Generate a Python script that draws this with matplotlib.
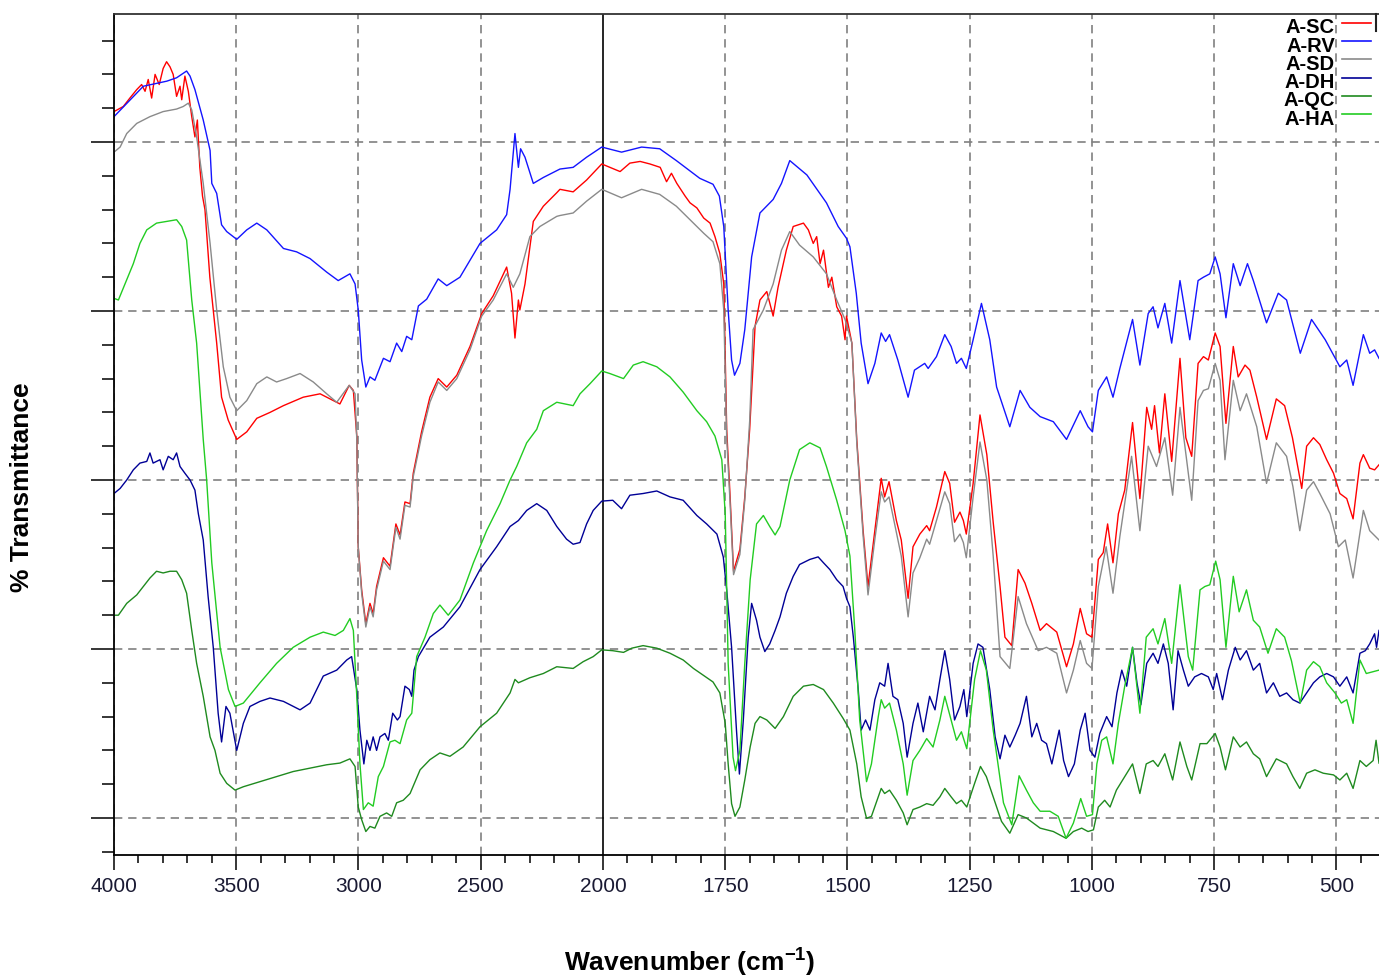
import numpy as np
import matplotlib
matplotlib.use("Agg")
import matplotlib.pyplot as plt
from matplotlib.ticker import FixedLocator, MultipleLocator, NullFormatter
from matplotlib.lines import Line2D

plt.rcParams['font.family'] = ['Liberation Sans', 'DejaVu Sans']
plt.rcParams['mathtext.fontset'] = 'custom'
plt.rcParams['mathtext.rm'] = 'Liberation Sans'
plt.rcParams['mathtext.bf'] = 'Liberation Sans:bold'

# ---- spectra: (wavenumber cm-1, %T) ----
a_sc = np.array([
    (4000, 51.8), (3962, 52.1), (3935, 52.6), (3907, 53.1), (3887, 53.4), (3873, 53.0), (3860, 53.7),
    (3846, 52.6), (3832, 54.0), (3815, 53.4), (3799, 54.35), (3785, 54.75), (3771, 54.45), (3758, 54.0),
    (3744, 52.7), (3730, 53.3), (3723, 52.5), (3710, 53.9), (3696, 53.0), (3682, 51.5), (3669, 50.3),
    (3659, 51.3), (3649, 48.5), (3638, 46.8), (3628, 46.0), (3608, 42.0), (3580, 38.1), (3560, 34.9),
    (3533, 33.55), (3498, 32.4), (3457, 32.85), (3416, 33.65), (3362, 34.0), (3307, 34.4), (3226, 34.9),
    (3157, 35.1), (3103, 34.7), (3076, 34.5), (3038, 35.6), (3021, 35.3), (3007, 32.6), (3001, 26.05),
    (2987, 23.5), (2970, 21.5), (2953, 22.7), (2940, 22.1), (2926, 23.7), (2898, 25.4), (2871, 24.9),
    (2847, 27.4), (2830, 26.75), (2810, 28.7), (2789, 28.6), (2776, 30.4), (2742, 32.85), (2708, 34.9),
    (2674, 36.0), (2639, 35.5), (2598, 36.2), (2544, 37.9), (2496, 39.85), (2449, 40.9), (2394, 42.6),
    (2374, 41.05), (2360, 38.4), (2346, 40.65), (2340, 40.06), (2319, 41.6), (2285, 45.3), (2244, 46.2),
    (2189, 47.0), (2176, 47.2), (2122, 47.05), (2067, 47.75), (2005, 48.7), (1986, 48.5), (1965, 48.25),
    (1945, 48.75), (1924, 48.85), (1904, 48.7), (1883, 48.5), (1870, 47.65), (1860, 48.15), (1849, 47.55),
    (1832, 46.8), (1822, 46.4), (1808, 46.1), (1794, 45.5), (1781, 45.2), (1771, 44.4), (1761, 43.4),
    (1753, 41.6), (1747, 33.0), (1740, 29.0), (1733, 24.6), (1720, 25.9), (1710, 29.0), (1700, 33.0),
    (1689, 39.1), (1679, 40.65), (1665, 41.15), (1652, 39.7), (1642, 41.4), (1625, 43.6), (1611, 45.0),
    (1590, 45.2), (1580, 44.8), (1570, 44.0), (1563, 44.4), (1556, 42.8), (1549, 43.6), (1539, 41.4),
    (1532, 42.0), (1522, 40.25), (1512, 39.7), (1505, 38.3), (1502, 39.7), (1491, 38.1), (1481, 32.4),
    (1468, 27.0), (1458, 23.7), (1444, 27.0), (1431, 30.1), (1424, 29.0), (1415, 29.9), (1400, 27.6),
    (1390, 26.45), (1376, 23.0), (1366, 26.05), (1352, 26.8), (1338, 27.3), (1332, 27.0), (1318, 28.4),
    (1301, 30.5), (1291, 29.8), (1281, 27.5), (1270, 28.1), (1263, 27.6), (1257, 26.8), (1243, 29.8),
    (1229, 33.85), (1215, 31.5), (1202, 27.5), (1188, 23.7), (1178, 20.7), (1164, 20.2), (1151, 24.7),
    (1137, 23.9), (1123, 22.7), (1106, 21.1), (1093, 21.5), (1072, 21.0), (1052, 18.95), (1038, 20.3),
    (1024, 22.4), (1011, 20.9), (1000, 20.7), (987, 25.3), (977, 25.7), (968, 27.4), (957, 25.1),
    (946, 28.0), (933, 29.4), (917, 33.4), (902, 28.9), (888, 34.3), (878, 33.0), (872, 34.4),
    (862, 31.6), (851, 35.1), (837, 31.1), (820, 37.2), (808, 32.5), (796, 31.4), (783, 36.9),
    (772, 37.3), (762, 37.1), (748, 38.7), (738, 37.9), (726, 33.35), (711, 37.9), (701, 36.1),
    (687, 36.8), (677, 36.5), (663, 34.9), (643, 32.4), (623, 34.8), (606, 34.4), (590, 32.5),
    (571, 29.5), (561, 32.0), (547, 32.5), (534, 32.1), (520, 31.2), (506, 30.4), (493, 29.2),
    (479, 28.9), (466, 27.7), (452, 31.0), (445, 31.5), (432, 30.7), (422, 30.6), (413, 30.9),
])

a_rv = np.array([
    (4000, 51.5), (3880, 53.3), (3784, 53.6), (3744, 53.8), (3703, 54.2), (3689, 53.9), (3669, 53.1),
    (3635, 51.3), (3607, 49.5), (3600, 47.55), (3580, 46.96), (3560, 45.1), (3539, 44.7), (3498, 44.24),
    (3457, 44.8), (3416, 45.2), (3375, 44.8), (3307, 43.7), (3253, 43.5), (3198, 43.1), (3130, 42.3),
    (3083, 41.8), (3035, 42.2), (3014, 41.6), (3001, 40.06), (2987, 37.1), (2970, 35.5), (2953, 36.1),
    (2933, 35.9), (2898, 37.2), (2871, 37.0), (2844, 38.1), (2823, 37.6), (2803, 38.5), (2782, 38.3),
    (2755, 40.3), (2721, 40.7), (2674, 41.9), (2639, 41.5), (2585, 42.0), (2503, 44.0), (2435, 44.8),
    (2394, 45.7), (2380, 47.2), (2360, 50.5), (2346, 48.5), (2337, 49.6), (2319, 49.1), (2285, 47.55),
    (2244, 47.9), (2176, 48.4), (2122, 48.5), (2067, 49.1), (2005, 49.7), (1962, 49.4), (1921, 49.7),
    (1884, 49.6), (1850, 48.9), (1802, 47.85), (1775, 47.5), (1762, 46.8), (1753, 45.0), (1744, 40.06),
    (1737, 37.1), (1731, 36.2), (1720, 36.9), (1710, 38.9), (1696, 43.2), (1679, 45.8), (1652, 46.6),
    (1635, 47.55), (1618, 48.9), (1583, 48.05), (1543, 46.4), (1519, 45.0), (1502, 44.3), (1495, 43.8),
    (1482, 41.05), (1472, 38.1), (1458, 35.7), (1444, 36.9), (1431, 38.7), (1422, 38.2), (1414, 38.6),
    (1397, 37.1), (1376, 34.9), (1363, 36.5), (1342, 36.9), (1335, 36.6), (1318, 37.3), (1301, 38.6),
    (1288, 37.9), (1277, 36.9), (1267, 37.2), (1257, 36.6), (1243, 38.3), (1226, 40.45), (1209, 38.3),
    (1195, 35.5), (1168, 33.15), (1147, 35.3), (1127, 34.3), (1106, 33.75), (1079, 33.45), (1052, 32.4),
    (1024, 34.1), (1008, 33.15), (999, 32.85), (987, 35.3), (970, 36.1), (957, 34.9), (943, 36.6),
    (917, 39.5), (902, 36.8), (885, 39.85), (875, 40.25), (865, 39.0), (851, 40.45), (837, 38.1),
    (820, 41.8), (800, 38.3), (783, 41.8), (772, 42.0), (759, 42.2), (748, 43.2), (738, 42.2),
    (726, 39.6), (711, 42.8), (697, 41.5), (682, 42.8), (670, 41.8), (643, 39.3), (619, 41.05),
    (602, 40.65), (574, 37.5), (551, 39.5), (523, 38.3), (493, 36.7), (479, 37.1), (466, 35.6),
    (445, 38.6), (432, 37.5), (422, 37.7), (413, 37.2),
])

a_sd = np.array([
    (4000, 49.4), (3975, 49.7), (3948, 50.5), (3907, 51.1), (3853, 51.5), (3799, 51.8), (3744, 51.95),
    (3717, 52.1), (3696, 52.3), (3682, 51.9), (3662, 50.3), (3635, 47.55), (3607, 44.0), (3580, 40.06),
    (3553, 36.7), (3526, 34.9), (3498, 34.1), (3457, 34.7), (3416, 35.7), (3375, 36.1), (3335, 35.8),
    (3294, 36.0), (3239, 36.3), (3185, 35.8), (3130, 35.1), (3089, 34.6), (3038, 35.6), (3014, 35.1),
    (3007, 32.4), (3001, 26.0), (2987, 23.3), (2970, 21.3), (2953, 22.5), (2940, 21.9), (2926, 23.5),
    (2898, 25.2), (2871, 24.7), (2847, 27.2), (2830, 26.5), (2810, 28.5), (2789, 28.4), (2776, 30.2),
    (2742, 32.6), (2708, 34.6), (2674, 35.8), (2639, 35.3), (2598, 36.0), (2544, 37.7), (2496, 39.7),
    (2449, 40.65), (2394, 42.2), (2367, 41.4), (2340, 42.2), (2299, 44.4), (2258, 45.0), (2189, 45.6),
    (2176, 45.65), (2122, 45.8), (2067, 46.5), (2005, 47.2), (1962, 46.7), (1921, 47.2), (1884, 46.9),
    (1850, 46.2), (1815, 45.2), (1794, 44.6), (1775, 44.1), (1761, 42.8), (1753, 40.06), (1747, 32.5),
    (1740, 28.6), (1733, 24.4), (1720, 25.6), (1710, 28.8), (1700, 33.5), (1693, 38.9), (1672, 40.06),
    (1652, 41.6), (1635, 43.6), (1618, 44.7), (1598, 43.9), (1570, 43.2), (1543, 42.2), (1522, 40.65),
    (1505, 39.5), (1491, 38.1), (1481, 32.2), (1468, 26.7), (1458, 23.2), (1444, 26.5), (1431, 29.3),
    (1424, 28.7), (1415, 29.0), (1400, 26.9), (1390, 25.5), (1376, 21.9), (1366, 24.5), (1352, 25.4),
    (1338, 26.5), (1332, 26.2), (1318, 27.6), (1301, 29.3), (1291, 28.6), (1281, 26.35), (1270, 26.8),
    (1263, 26.3), (1257, 25.4), (1243, 29.0), (1229, 32.25), (1215, 30.0), (1202, 25.5), (1188, 19.55),
    (1168, 18.85), (1151, 23.1), (1134, 21.5), (1110, 19.9), (1093, 20.1), (1072, 19.75), (1052, 17.4),
    (1038, 18.75), (1024, 20.5), (1011, 19.15), (1000, 18.85), (987, 23.7), (971, 26.05), (957, 23.3),
    (943, 26.65), (919, 31.4), (902, 27.0), (885, 32.0), (868, 30.8), (851, 32.5), (835, 29.1),
    (820, 34.3), (796, 28.8), (783, 34.7), (772, 35.3), (762, 35.4), (748, 36.9), (738, 35.9),
    (728, 31.2), (711, 35.9), (697, 34.1), (684, 35.1), (663, 33.15), (643, 29.8), (623, 32.2),
    (602, 31.4), (589, 29.6), (575, 27.0), (561, 29.4), (547, 29.9), (534, 29.2), (513, 28.0),
    (496, 26.05), (482, 26.45), (466, 24.2), (445, 28.2), (432, 27.0), (413, 26.45),
])

a_dh = np.array([
    (4000, 29.2), (3975, 29.5), (3948, 30.0), (3921, 30.6), (3894, 31.0), (3866, 31.1), (3853, 31.6),
    (3840, 31.0), (3812, 31.2), (3799, 30.6), (3778, 31.4), (3758, 31.2), (3744, 31.6), (3730, 30.8),
    (3710, 30.4), (3689, 30.0), (3669, 29.4), (3655, 28.0), (3635, 26.45), (3615, 23.1), (3594, 20.1),
    (3574, 16.2), (3560, 14.5), (3542, 16.6), (3526, 16.2), (3498, 14.0), (3471, 15.6), (3444, 16.6),
    (3403, 16.9), (3362, 17.1), (3307, 16.9), (3239, 16.4), (3198, 16.8), (3144, 18.4), (3089, 18.75),
    (3048, 19.35), (3028, 19.55), (3007, 17.6), (2994, 15.2), (2978, 13.2), (2966, 14.6), (2953, 14.0),
    (2940, 14.8), (2926, 14.0), (2912, 14.8), (2892, 15.0), (2878, 14.6), (2860, 16.2), (2841, 15.8),
    (2830, 16.0), (2810, 17.8), (2792, 17.6), (2782, 17.2), (2773, 18.75), (2755, 19.55), (2708, 20.7),
    (2653, 21.3), (2585, 22.5), (2503, 24.7), (2435, 26.05), (2380, 27.25), (2346, 27.6), (2312, 28.2),
    (2271, 28.6), (2230, 28.2), (2189, 27.25), (2149, 26.5), (2122, 26.2), (2094, 26.3), (2067, 27.4),
    (2040, 28.2), (2005, 28.75), (1980, 28.8), (1962, 28.3), (1945, 29.1), (1918, 29.2), (1890, 29.35),
    (1863, 29.0), (1836, 28.8), (1808, 27.9), (1788, 27.4), (1767, 26.8), (1754, 25.45), (1747, 23.5),
    (1737, 20.1), (1727, 15.2), (1721, 12.6), (1713, 15.8), (1703, 20.7), (1696, 22.7), (1686, 21.7),
    (1679, 20.7), (1669, 19.85), (1659, 20.3), (1648, 21.1), (1638, 21.9), (1625, 23.3), (1611, 24.3),
    (1598, 25.0), (1577, 25.3), (1560, 25.45), (1549, 25.1), (1536, 24.7), (1522, 24.1), (1509, 23.7),
    (1502, 23.0), (1495, 22.5), (1488, 20.7), (1478, 17.6), (1472, 15.2), (1463, 15.8), (1454, 15.2),
    (1444, 17.0), (1434, 18.0), (1424, 17.8), (1417, 19.15), (1407, 17.2), (1397, 17.0), (1386, 15.6),
    (1378, 13.6), (1366, 15.6), (1356, 16.8), (1345, 15.1), (1332, 17.2), (1321, 16.4), (1311, 18.2),
    (1301, 19.9), (1291, 18.2), (1281, 15.8), (1270, 16.6), (1262, 17.6), (1256, 16.0), (1243, 19.15),
    (1233, 20.3), (1223, 20.1), (1209, 17.6), (1198, 14.8), (1188, 13.5), (1178, 14.9), (1168, 14.2),
    (1157, 14.9), (1147, 15.6), (1134, 17.2), (1123, 14.8), (1113, 15.6), (1103, 14.6), (1093, 14.4),
    (1082, 13.2), (1067, 15.2), (1058, 13.4), (1048, 12.45), (1036, 13.2), (1024, 15.2), (1014, 16.2),
    (1004, 14.0), (994, 13.6), (984, 15.0), (970, 16.0), (959, 15.4), (949, 17.4), (939, 18.75),
    (929, 17.8), (917, 20.1), (908, 18.0), (900, 16.7), (888, 19.15), (875, 19.75), (865, 19.15),
    (854, 20.3), (844, 19.15), (834, 16.4), (824, 19.9), (813, 18.75), (803, 17.8), (790, 18.35),
    (776, 18.55), (762, 18.35), (752, 17.6), (745, 18.55), (733, 17.0), (721, 18.75), (707, 20.1),
    (697, 19.35), (684, 19.9), (670, 18.75), (657, 19.15), (643, 17.4), (629, 18.0), (616, 17.2),
    (602, 17.4), (589, 17.0), (575, 16.8), (561, 17.4), (547, 18.0), (534, 18.35), (520, 18.55),
    (506, 18.35), (493, 17.8), (479, 18.35), (466, 17.4), (452, 19.75), (441, 19.9), (432, 20.3),
    (422, 20.9), (418, 20.1), (413, 21.1),
])

a_qc = np.array([
    (4000, 22.0), (3982, 22.0), (3948, 22.7), (3907, 23.2), (3880, 23.7), (3853, 24.2), (3826, 24.6),
    (3799, 24.5), (3771, 24.6), (3744, 24.6), (3723, 24.1), (3703, 23.3), (3682, 21.1), (3662, 19.15),
    (3635, 17.2), (3607, 14.8), (3587, 14.0), (3566, 12.65), (3539, 12.05), (3505, 11.65), (3471, 11.85),
    (3403, 12.15), (3335, 12.45), (3267, 12.75), (3198, 12.95), (3130, 13.15), (3076, 13.25), (3035, 13.5),
    (3014, 13.05), (3001, 10.65), (2987, 9.9), (2970, 9.2), (2953, 9.5), (2933, 9.4), (2912, 10.1),
    (2885, 10.3), (2864, 10.1), (2844, 10.9), (2817, 11.05), (2789, 11.45), (2748, 12.85), (2708, 13.45),
    (2667, 13.85), (2626, 13.65), (2572, 14.2), (2503, 15.4), (2435, 16.2), (2380, 17.4), (2360, 18.2),
    (2346, 18.0), (2299, 18.3), (2244, 18.55), (2189, 18.95), (2122, 18.85), (2081, 19.25), (2040, 19.55),
    (2005, 19.95), (1980, 19.9), (1958, 19.8), (1941, 20.05), (1918, 20.2), (1890, 20.05), (1863, 19.75),
    (1836, 19.35), (1815, 18.85), (1795, 18.45), (1775, 18.05), (1761, 17.4), (1750, 15.6), (1744, 13.2),
    (1737, 10.85), (1730, 10.1), (1720, 10.65), (1710, 12.25), (1699, 14.2), (1689, 15.6), (1679, 16.0),
    (1665, 15.8), (1648, 15.3), (1631, 16.0), (1611, 17.2), (1590, 17.8), (1570, 17.9), (1549, 17.6),
    (1529, 16.8), (1509, 15.9), (1495, 15.2), (1481, 13.2), (1472, 11.25), (1461, 9.98), (1451, 10.1),
    (1437, 11.25), (1431, 11.75), (1424, 11.45), (1414, 11.65), (1400, 11.05), (1386, 10.3), (1378, 9.6),
    (1366, 10.5), (1352, 10.65), (1338, 10.85), (1325, 10.75), (1311, 11.25), (1301, 11.75), (1288, 11.25),
    (1277, 10.85), (1267, 11.05), (1256, 10.65), (1240, 12.05), (1228, 13.05), (1216, 12.45), (1202, 11.25),
    (1185, 9.8), (1168, 9.1), (1151, 10.2), (1134, 10.0), (1106, 9.4), (1079, 9.2), (1053, 8.8),
    (1038, 9.2), (1021, 9.4), (1008, 9.2), (997, 9.3), (987, 10.65), (974, 11.05), (963, 10.65),
    (950, 11.65), (933, 12.45), (917, 13.2), (902, 11.45), (889, 13.2), (875, 13.4), (865, 13.05),
    (851, 13.8), (835, 12.25), (820, 14.5), (806, 13.05), (796, 12.25), (779, 14.4), (765, 14.4),
    (748, 15.0), (738, 14.2), (727, 12.85), (711, 14.8), (697, 14.2), (684, 14.5), (670, 13.8),
    (657, 13.5), (643, 12.45), (623, 13.5), (602, 13.2), (589, 12.45), (575, 11.75), (561, 12.65),
    (544, 12.85), (527, 12.65), (506, 12.55), (493, 12.25), (479, 12.65), (466, 11.75), (452, 13.4),
    (439, 13.05), (425, 13.4), (419, 14.6), (413, 13.25),
])

a_ha = np.array([
    (4000, 40.75), (3982, 40.65), (3955, 41.6), (3921, 42.8), (3894, 44.0), (3866, 44.8), (3826, 45.2),
    (3785, 45.3), (3744, 45.4), (3723, 45.0), (3703, 44.2), (3682, 40.65), (3662, 38.1), (3635, 32.4),
    (3621, 30.0), (3600, 25.1), (3566, 20.1), (3532, 17.6), (3505, 16.6), (3471, 16.8), (3403, 18.0),
    (3335, 19.15), (3267, 20.1), (3198, 20.7), (3144, 21.0), (3096, 20.8), (3062, 21.1), (3035, 21.8),
    (3021, 21.1), (3007, 17.2), (2994, 13.2), (2980, 10.5), (2960, 10.9), (2940, 10.7), (2919, 12.45),
    (2898, 13.05), (2871, 14.5), (2851, 14.6), (2830, 14.4), (2803, 15.8), (2782, 16.2), (2762, 19.55),
    (2728, 20.7), (2694, 22.1), (2667, 22.6), (2633, 22.0), (2585, 22.9), (2530, 25.1), (2476, 27.0),
    (2421, 28.6), (2380, 30.0), (2353, 30.8), (2312, 32.2), (2271, 33.0), (2244, 34.1), (2189, 34.6),
    (2122, 34.4), (2094, 35.1), (2053, 35.7), (2005, 36.45), (1986, 36.3), (1958, 36.0), (1938, 36.8),
    (1918, 37.0), (1890, 36.7), (1863, 36.1), (1836, 35.2), (1808, 34.1), (1788, 33.45), (1771, 32.6),
    (1757, 31.2), (1750, 28.0), (1744, 19.15), (1734, 13.6), (1729, 12.8), (1720, 14.0), (1710, 19.15),
    (1699, 24.1), (1686, 27.4), (1672, 27.9), (1659, 27.25), (1648, 26.75), (1638, 27.25), (1618, 30.0),
    (1598, 31.8), (1577, 32.2), (1556, 31.9), (1543, 30.8), (1522, 28.8), (1505, 27.0), (1495, 25.5),
    (1485, 21.1), (1475, 15.8), (1461, 12.15), (1451, 13.2), (1437, 16.0), (1431, 17.0), (1424, 16.5),
    (1414, 16.8), (1400, 15.2), (1386, 13.2), (1378, 11.35), (1366, 13.4), (1352, 14.0), (1338, 14.7),
    (1325, 14.2), (1311, 15.8), (1301, 17.2), (1288, 15.8), (1277, 14.6), (1267, 15.1), (1256, 14.1),
    (1240, 18.2), (1228, 19.9), (1216, 18.75), (1202, 15.2), (1181, 10.9), (1164, 9.6), (1149, 12.5),
    (1134, 11.65), (1120, 10.9), (1106, 10.4), (1086, 10.4), (1069, 10.1), (1053, 8.8), (1038, 9.7),
    (1023, 11.15), (1011, 10.1), (999, 10.2), (990, 13.2), (980, 14.6), (970, 14.8), (957, 13.2),
    (946, 15.6), (933, 17.8), (917, 20.1), (902, 16.2), (889, 20.7), (875, 21.2), (865, 20.3),
    (851, 21.8), (837, 19.15), (820, 23.8), (803, 19.55), (794, 18.75), (779, 23.5), (769, 23.7),
    (759, 23.8), (747, 25.2), (738, 24.1), (726, 20.1), (711, 24.3), (699, 22.2), (684, 23.5),
    (670, 21.7), (657, 21.3), (640, 19.75), (623, 21.2), (606, 20.7), (592, 19.3), (574, 16.8),
    (561, 18.75), (547, 19.25), (534, 18.95), (520, 18.0), (503, 17.4), (490, 16.8), (479, 17.0),
    (466, 15.6), (452, 19.35), (439, 18.55), (413, 18.75),
])

labels = ['A-SC', 'A-RV', 'A-SD', 'A-DH', 'A-QC', 'A-HA']
colors = ['#ff0000', '#1414ff', '#8a8a8a', '#000096', '#1f8a1f', '#22cc22']
series = [a_sc, a_rv, a_sd, a_dh, a_qc, a_ha]

major_x = [4000, 3500, 3000, 2500, 2000, 1750, 1500, 1250, 1000, 750, 500]
minor_x = [w for w in range(3900, 2000, -100) if w % 500] + \
          [w for w in range(1950, 400, -50) if w % 250]
grid_x = [4000, 3500, 3000, 2500, 1750, 1500, 1250, 1000, 750, 500]
grid_y = [10, 20, 30, 40, 50]


# wavenumber axis: below 2000 cm-1 the scale is expanded two-fold
def fwd(x):
    x = np.asarray(x, dtype=float)
    return np.where(x >= 2000, x, 2 * x - 2000)


def inv(y):
    y = np.asarray(y, dtype=float)
    return np.where(y >= 2000, y, (y + 2000) / 2)


W, H = 1379, 976
fig = plt.figure(figsize=(W / 100, H / 100), dpi=100)
ax = fig.add_axes([114 / W, 1 - 855 / H, 1 - 114 / W, (855 - 14) / H])
ax.set_xscale('function', functions=(fwd, inv))
ax.set_xlim(4000, 413)
ax.set_ylim(10 + (818 - 855) / 16.9, 10 + (818 - 14) / 16.9)

dash = (0, (5, 3.5))
for gx in grid_x:
    ax.axvline(gx, color='#808080', lw=1.2, ls=dash, zorder=1)
for gy in grid_y:
    ax.axhline(gy, color='#808080', lw=1.2, ls=dash, zorder=1)
ax.axvline(2000, color='black', lw=1.2, zorder=1.5)

draw_order = [4, 5, 3, 2, 0, 1]
for i in draw_order:
    d = series[i][np.argsort(-series[i][:, 0])]
    ax.plot(d[:, 0], d[:, 1], color=colors[i], lw=1.0, zorder=2 + i * 0.1)

ax.xaxis.set_major_locator(FixedLocator(major_x))
ax.xaxis.set_minor_locator(FixedLocator(minor_x))
ax.xaxis.set_minor_formatter(NullFormatter())
ax.set_xticklabels([str(v) for v in major_x])
ax.yaxis.set_major_locator(FixedLocator(grid_y))
ax.yaxis.set_minor_locator(MultipleLocator(2))
ax.tick_params(axis='x', which='major', length=11, width=1.1, labelsize=15, pad=5,
               labelcolor='#1a1a33')
ax.tick_params(axis='x', which='minor', length=5.8, width=1.1)
ax.tick_params(axis='y', which='major', length=16.5, width=1.1, labelleft=False)
ax.tick_params(axis='y', which='minor', length=8.6, width=1.1)

for s in ['left', 'bottom', 'top']:
    ax.spines[s].set_linewidth(1.3)
    ax.spines[s].set_zorder(5)
ax.spines['top'].set_color('#333333')
ax.spines['right'].set_visible(False)

fig.text(22 / W, 1 - 487 / H, '% Transmittance', rotation=90, ha='center', va='center',
         fontsize=19, fontweight='bold')
fig.text(690 / W, 1 - 962 / H, 'Wavenumber (cm$^{\\mathbf{-1}}$)', ha='center', va='center',
         fontsize=19, fontweight='bold')

# legend block in the top-right corner
for i, (lab, col) in enumerate(zip(labels, colors)):
    yl = 22.7 + 18.3 * i
    fig.add_artist(Line2D([1342 / W, 1371 / W], [1 - yl / H, 1 - yl / H], color=col, lw=1.2))
    fig.text(1335 / W, 1 - (yl + 10.5) / H, lab, ha='right', va='baseline',
             fontsize=14.5, fontweight='bold')
fig.add_artist(Line2D([1376 / W, 1376 / W], [1 - 14 / H, 1 - 31 / H], color='#222222', lw=1.5))

fig.savefig('out.png', dpi=100)
